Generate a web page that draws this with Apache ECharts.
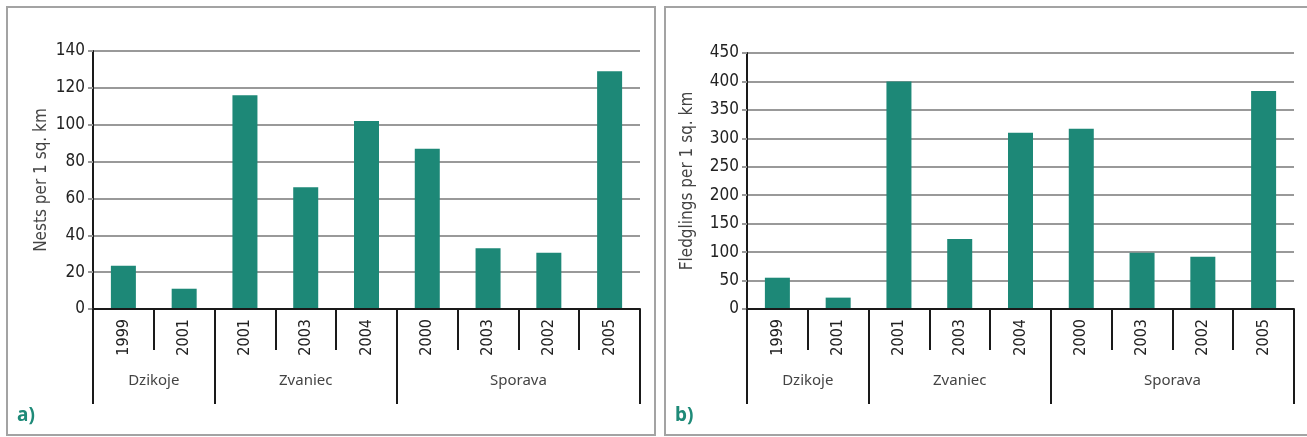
<!DOCTYPE html>
<html>
<head>
<meta charset="utf-8">
<script src="https://cdn.jsdelivr.net/npm/echarts@6/dist/echarts.min.js"></script>
<style>
  html, body { margin: 0; padding: 0; background: #fff; }
  #main { width: 1307px; height: 437px; }
</style>
</head>
<body>
<div id="main"></div>
<script>
// data
var years = ['1999', '2001', '2001', '2003', '2004', '2000', '2003', '2002', '2005'];
var groups = ['Dzikoje', 'Zvaniec', 'Sporava'];
var groupSizes = [2, 3, 4];
var nests = [23.5, 11, 116, 66, 102, 87, 33, 30.5, 129];
var fledglings = [55, 20, 400, 123, 310, 317, 99, 92, 383];

// group boundaries / centres on a 0..9 scale
var bounds = [0];
var centers = [];
groupSizes.forEach(function (n) {
  var start = bounds[bounds.length - 1];
  centers.push(start + n / 2);
  bounds.push(start + n);
});

var barColor = '#1d8877';
var axisFont = 'DejaVu Sans Condensed';

function yearAxis(gi) {
  return {
    type: 'category', gridIndex: gi, data: years,
    axisLine: { lineStyle: { color: '#1a1a1a', width: 2 } },
    axisTick: { show: true, interval: 0, length: 41, lineStyle: { color: '#1a1a1a', width: 2 } },
    axisLabel: { interval: 0, rotate: 90, margin: 10, fontFamily: axisFont, fontSize: 16, color: '#222' },
    z: 5
  };
}

function groupAxis(gi) {
  return {
    type: 'value', gridIndex: gi, min: 0, max: bounds[bounds.length - 1], position: 'bottom',
    axisLine: { show: false },
    splitLine: { show: false },
    axisTick: { show: true, length: 95, customValues: bounds, lineStyle: { color: '#1a1a1a', width: 2 } },
    axisLabel: {
      customValues: centers, margin: 64, fontFamily: 'Noto Sans', fontSize: 15, color: '#444',
      formatter: function (v) {
        var i = centers.indexOf(v);
        return i >= 0 ? groups[i] : '';
      }
    }
  };
}

function valueAxis(gi, max, step, name, gap) {
  return {
    type: 'value', gridIndex: gi, min: 0, max: max, interval: step,
    name: name, nameLocation: 'middle', nameGap: gap,
    nameTextStyle: { fontFamily: axisFont, fontSize: 17, color: '#444' },
    axisLine: { show: true, lineStyle: { color: '#1a1a1a', width: 2 } },
    axisTick: { show: true, length: 5, lineStyle: { color: '#999', width: 2 } },
    splitLine: { lineStyle: { color: '#999', width: 2 } },
    axisLabel: { margin: 8, fontFamily: axisFont, fontSize: 17, color: '#222' }
  };
}

var chart = echarts.init(document.getElementById('main'));
var option = {
  animation: false,
  backgroundColor: '#fff',
  grid: [
    { left: 93, right: 667, top: 51, bottom: 128 },
    { left: 747, right: 13, top: 53, bottom: 128 }
  ],
  xAxis: [yearAxis(0), groupAxis(0), yearAxis(1), groupAxis(1)],
  yAxis: [
    valueAxis(0, 140, 20, 'Nests per 1 sq. km', 43),
    valueAxis(1, 450, 50, 'Fledglings per 1 sq. km', 51)
  ],
  series: [
    { type: 'bar', xAxisIndex: 0, yAxisIndex: 0, data: nests, barWidth: 25, itemStyle: { color: barColor } },
    { type: 'bar', xAxisIndex: 2, yAxisIndex: 1, data: fledglings, barWidth: 25, itemStyle: { color: barColor } }
  ],
  graphic: [
    { type: 'rect', shape: { x: 7, y: 7, width: 648, height: 428 }, style: { fill: 'none', stroke: '#a3a3a3', lineWidth: 2 } },
    { type: 'rect', shape: { x: 665, y: 7, width: 660, height: 428 }, style: { fill: 'none', stroke: '#a3a3a3', lineWidth: 2 } },
    { type: 'text', left: 17, top: 406, style: { text: 'a)', font: 'bold 19px "Noto Sans"', fill: '#1e8a78' } },
    { type: 'text', left: 675, top: 406, style: { text: 'b)', font: 'bold 19px "Noto Sans"', fill: '#1e8a78' } }
  ]
};
chart.setOption(option);
</script>
</body>
</html>
